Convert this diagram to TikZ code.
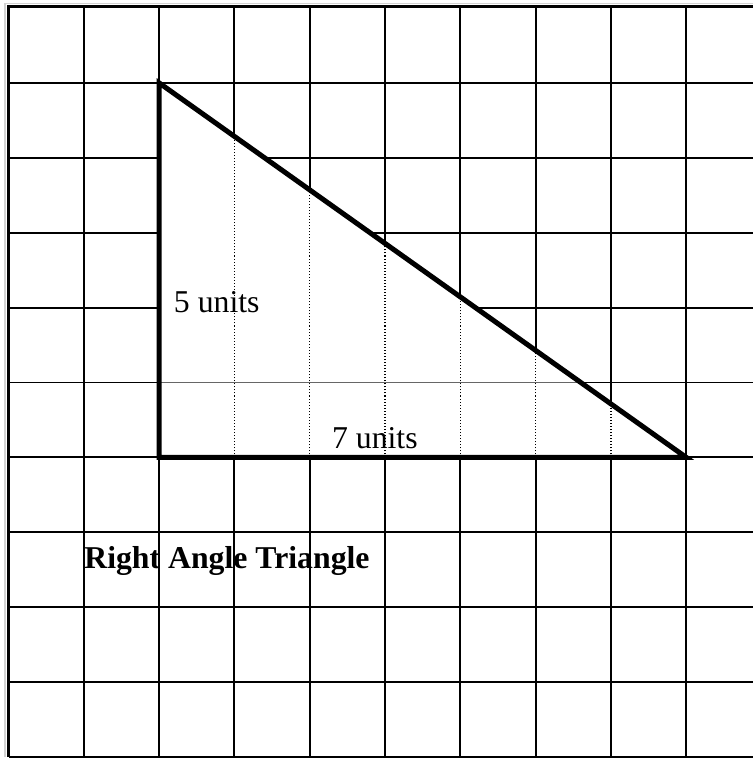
\documentclass[tikz,border=0pt]{standalone}
\usepackage{fontspec}
\setmainfont{Liberation Serif}
\tikzset{
  gridline/.style = {line width=0.75pt, black},
  frameline/.style = {line width=1.1pt, black},
  shadeline/.style = {line width=0.7pt, gray!35},
  dotline/.style = {line width=0.45pt, black, dash pattern=on 0.4pt off 0.75pt},
  midline/.style = {line width=0.4pt, gray!80!black},
  edge/.style = {line width=1.9pt, black},
  label/.style = {anchor=base west, inner sep=0pt, font=\fontsize{12}{14}\selectfont}
}

\begin{document}
\begin{tikzpicture}[x=1cm,y=0.99469cm]
  \useasboundingbox (-0.113,-0.0267) rectangle (9.887,10.1068);
  \pgfmathsetmacro{\Right}{9.887};
  %
  % grid
  \foreach \i in {1,...,9} \draw[gridline] (\i,0) -- (\i,10);
  \foreach \j in {1,...,9} \draw[gridline] (0,\j) -- (\Right,\j);
  % frame
  \draw[shadeline] (-0.045,0) -- (-0.045,10.06) -- (\Right,10.06);
  \draw[frameline] (0,0) -- (0,10.015) -- (\Right,10.015);
  \draw[frameline] (0,0) -- (\Right,0);
  %
  \coordinate (A) at (2,9);
  \coordinate (B) at (2,4);
  \coordinate (C) at (9,4);
  %
  \fill[white] (A) -- (B) -- (C) -- cycle;
  \begin{scope}
    \clip (A) -- (B) -- (C) -- cycle;
    \foreach \i in {3,...,8} \draw[dotline] (\i,4) -- (\i,9);
    \draw[midline] (2,5) -- (9,5);
  \end{scope}
  % triangle
  \draw[edge] (A) -- (B) -- (C) -- cycle;
  % labels
  \node[label] (height) at (2.19,5.94) {5 units};
  \node[label] (base) at (4.29,4.12) {7 units};
  \node[label,font=\fontsize{12}{14}\selectfont\bfseries] (title) at (1.0,2.52) {Right Angle Triangle};
\end{tikzpicture}
\end{document}
